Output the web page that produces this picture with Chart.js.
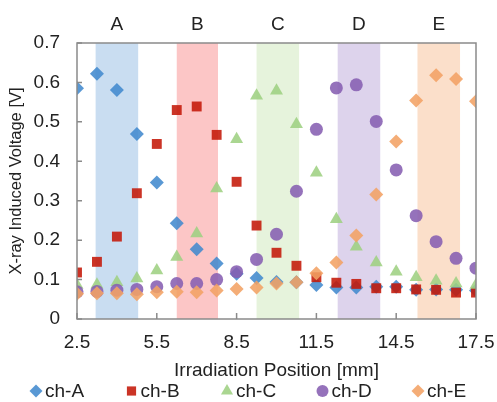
<!DOCTYPE html>
<html>
<head>
<meta charset="utf-8">
<script src="https://cdn.jsdelivr.net/npm/chart.js@4.4.1/dist/chart.umd.min.js"></script>
<style>
html,body{margin:0;padding:0;background:#fff}
</style>
</head>
<body>
<canvas id="chart" width="497" height="402"></canvas>
<script>
// irradiation positions [mm]
const positions=[2.5,3.25,4,4.75,5.5,6.25,7,7.75,8.5,9.25,10,10.75,11.5,12.25,13,13.75,14.5,15.25,16,16.75,17.5];
// induced voltage [V] per channel
const chA=[0.585,0.622,0.581,0.469,0.346,0.243,0.177,0.141,0.115,0.104,0.094,0.093,0.086,0.080,0.080,0.082,0.082,0.074,0.075,0.074,0.072];
const chB=[0.118,0.145,0.209,0.319,0.444,0.530,0.539,0.467,0.348,0.237,0.168,0.135,0.106,0.092,0.089,0.078,0.078,0.075,0.074,0.067,0.067];
const chC=[0.086,0.087,0.093,0.103,0.123,0.157,0.217,0.331,0.456,0.566,0.579,0.494,0.371,0.253,0.183,0.143,0.120,0.106,0.097,0.090,0.086];
const chD=[0.069,0.070,0.073,0.075,0.082,0.090,0.090,0.100,0.120,0.151,0.215,0.324,0.481,0.586,0.594,0.501,0.378,0.262,0.196,0.154,0.129];
const chE=[0.064,0.065,0.065,0.063,0.068,0.069,0.068,0.072,0.076,0.080,0.090,0.093,0.116,0.143,0.212,0.316,0.450,0.554,0.618,0.609,0.552];
const seriesNames=["ch-A","ch-B","ch-C","ch-D","ch-E"];
// channel regions
const bandLabels=["A","B","C","D","E"];
const bandStart=[3.2,6.25,9.25,12.3,15.3];
const bandEnd=[4.8,7.8,10.85,13.9,16.9];

const FONT="'Liberation Sans', Arial, sans-serif";
const TXT="#222";
Chart.defaults.font.family=FONT;
Chart.defaults.color=TXT;

const markers=[
{style:"rectRot",r:7,color:"rgba(66,138,206,0.88)"},
{style:"rect",r:7,color:"rgba(196,24,8,0.88)"},
{style:"triangle",r:7.5,color:"rgba(158,208,130,0.88)"},
{style:"circle",r:6.5,color:"rgba(134,94,178,0.88)"},
{style:"rectRot",r:7,color:"rgba(242,162,100,0.88)"}
];
const bandColors=["#c9ddf1","#fcc6c6","#e6f3dc","#ddd3ec","#fbdfca"];

function pts(vals){return vals.map((v,i)=>({x:positions[i],y:v}));}

const chartPlugin={
id:"deco",
beforeDatasetsDraw(c){
const ctx=c.ctx,a=c.chartArea,xs=c.scales.x;
ctx.save();
for(let i=0;i<bandLabels.length;i++){
let x1=xs.getPixelForValue(bandStart[i]),x2=xs.getPixelForValue(bandEnd[i]);
ctx.fillStyle=bandColors[i];
ctx.fillRect(x1,a.top,x2-x1,a.bottom-a.top);
ctx.fillStyle=TXT;
ctx.font="19px "+FONT;
ctx.textAlign="center";
ctx.textBaseline="middle";
ctx.fillText(bandLabels[i],(x1+x2)/2,a.top-18);
}
ctx.restore();
},
afterDraw(c){
const ctx=c.ctx,a=c.chartArea,xs=c.scales.x,ys=c.scales.y;
ctx.save();
ctx.strokeStyle="#8a8a8a";
ctx.lineWidth=1.5;
ctx.strokeRect(a.left,a.top,a.right-a.left,a.bottom-a.top);
ctx.beginPath();
ys.ticks.forEach(t=>{let y=ys.getPixelForValue(t.value);ctx.moveTo(a.left,y);ctx.lineTo(a.left+5,y);});
xs.ticks.forEach(t=>{let x=xs.getPixelForValue(t.value);ctx.moveTo(x,a.bottom);ctx.lineTo(x,a.bottom-6);});
ctx.stroke();
// legend
ctx.font="19px "+FONT;
ctx.textAlign="left";
ctx.textBaseline="middle";
for(let i=0;i<seriesNames.length;i++){
let cx=36+i*95.5,cy=391;
ctx.fillStyle=markers[i].color;
Chart.helpers.drawPoint(ctx,{pointStyle:markers[i].style,radius:markers[i].r-0.5,rotation:0,borderWidth:0},cx,cy);
ctx.fillStyle=TXT;
ctx.fillText(seriesNames[i],cx+9,cy+1);
}
ctx.restore();
}
};

const allSeries=[chA,chB,chC,chD,chE];
const datasets=allSeries.map((vals,i)=>({
label:seriesNames[i],
data:pts(vals),
pointStyle:markers[i].style,
pointRadius:markers[i].r,
pointHoverRadius:markers[i].r,
backgroundColor:markers[i].color,
borderColor:markers[i].color,
borderWidth:0,
showLine:false,
order:5-i
}));

new Chart(document.getElementById("chart"),{
type:"scatter",
data:{datasets:datasets},
options:{
responsive:false,
devicePixelRatio:1,
animation:false,
layout:{padding:{top:43,right:21,bottom:20,left:2}},
plugins:{legend:{display:false},tooltip:{enabled:false}},
scales:{
x:{
type:"linear",min:2.5,max:17.5,
grid:{display:false,drawTicks:false},border:{display:false},
ticks:{stepSize:3,padding:12,font:{size:19},color:TXT,callback:v=>String(Math.round(v*10)/10)},
title:{display:true,text:"Irradiation Position [mm]",font:{size:19},color:TXT,padding:{top:0,bottom:0}},
afterFit(s){s.height=63;s.paddingRight=0;s.paddingLeft=0;}
},
y:{
min:0,max:0.7,
grid:{display:false,drawTicks:false},border:{display:false},
ticks:{stepSize:0.1,padding:17,font:{size:19},color:TXT,callback:v=>v===0?"0":v.toFixed(1)},
title:{display:true,text:"X-ray Induced Voltage [V]",font:{size:16.5},color:TXT,padding:{top:5,bottom:4}},
afterFit(s){s.width=75;s.paddingTop=0;s.paddingBottom=0;}
}
}
},
plugins:[chartPlugin]
});
</script>
</body>
</html>
